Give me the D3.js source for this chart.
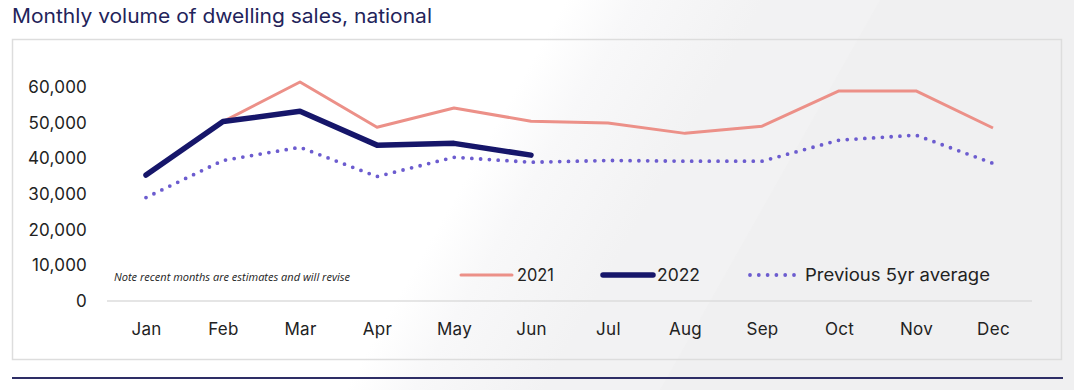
<!DOCTYPE html>
<html>
<head>
<meta charset="utf-8">
<script src="https://cdn.jsdelivr.net/npm/d3@7"></script>
<style>
  html, body { margin: 0; padding: 0; background: #fff; }
  svg { display: block; }
  text { font-family: Inter, "Noto Sans", sans-serif; }
</style>
</head>
<body>
<div id="chart"></div>
<script>
// chart data
const months = ["Jan", "Feb", "Mar", "Apr", "May", "Jun", "Jul", "Aug", "Sep", "Oct", "Nov", "Dec"];
const sales2021 = [35300, 50300, 61400, 48700, 54100, 50400, 49900, 47000, 49000, 58900, 58900, 48500];
const sales2022 = [35300, 50300, 53200, 43700, 44200, 40900];
const avg5yr = [29000, 39400, 43100, 34900, 40300, 38900, 39400, 39200, 39200, 45100, 46500, 38600];
const yTicks = [0, 10000, 20000, 30000, 40000, 50000, 60000];

const width = 1074, height = 390;

const svg = d3.select("#chart").append("svg")
    .attr("width", width)
    .attr("height", height);

// soft diagonal background, white on the left going to light grey on the right
const defs = svg.append("defs");
const grad = defs.append("linearGradient")
    .attr("id", "bgGrad")
    .attr("gradientUnits", "userSpaceOnUse")
    .attr("x1", 470).attr("y1", 170)
    .attr("x2", 620).attr("y2", 255);
grad.append("stop").attr("offset", "0%").attr("stop-color", "#ffffff");
grad.append("stop").attr("offset", "35%").attr("stop-color", "#f8f8f9");
grad.append("stop").attr("offset", "100%").attr("stop-color", "#f2f2f3");

svg.append("rect").attr("width", width).attr("height", height).attr("fill", "url(#bgGrad)");
svg.append("path")
    .attr("d", "M880,0 L1074,0 L1074,390 L660,390 Z")
    .attr("fill", "#ededee")
    .attr("opacity", 0.35);

// title
svg.append("text")
    .attr("x", 12)
    .attr("y", 23)
    .attr("fill", "#23235a")
    .attr("textLength", 420)
    .attr("lengthAdjust", "spacingAndGlyphs")
    .style("font-size", "19.5px")
    .text("Monthly volume of dwelling sales, national");

// card border
svg.append("rect")
    .attr("x", 12.5).attr("y", 39.5)
    .attr("width", 1049).attr("height", 320)
    .attr("fill", "none")
    .attr("stroke", "#dddddd")
    .attr("stroke-width", 1.5);

// bottom rule
svg.append("line")
    .attr("x1", 12).attr("x2", 1063)
    .attr("y1", 378).attr("y2", 378)
    .attr("stroke", "#2e2e66")
    .attr("stroke-width", 2);

const x = d3.scalePoint().domain(months).range([146, 993]);
const y = d3.scaleLinear().domain([0, 60000]).range([301, 87]);

// y axis labels
const yAxis = svg.append("g")
    .attr("transform", "translate(87,0)")
    .call(d3.axisLeft(y).tickValues(yTicks).tickSize(0).tickPadding(0)
        .tickFormat(d3.format(",")));
yAxis.select(".domain").remove();
yAxis.selectAll("text")
    .attr("fill", "#222")
    .style("font-size", "17px")
    .style("letter-spacing", "0.2px")
    .style("font-family", "Inter, 'Noto Sans', sans-serif");

// x axis labels
const xAxis = svg.append("g")
    .attr("transform", "translate(0,323)")
    .call(d3.axisBottom(x).tickSize(0).tickPadding(0));
xAxis.select(".domain").remove();
xAxis.selectAll("text")
    .attr("fill", "#222")
    .style("font-size", "17px")
    .style("letter-spacing", "0.3px")
    .style("font-family", "Inter, 'Noto Sans', sans-serif");

// zero baseline
svg.append("line")
    .attr("x1", 107).attr("x2", 1032)
    .attr("y1", y(0)).attr("y2", y(0))
    .attr("stroke", "#dcdcdc")
    .attr("stroke-width", 1.5);

const line = d3.line()
    .x((d, i) => x(months[i]))
    .y(d => y(d));

// previous 5yr average (dotted)
svg.append("path")
    .datum(avg5yr)
    .attr("d", line)
    .attr("fill", "none")
    .attr("stroke", "#6c5ccf")
    .attr("stroke-width", 3.8)
    .attr("stroke-linecap", "round")
    .attr("stroke-dasharray", "0,8.8");

// 2021
svg.append("path")
    .datum(sales2021)
    .attr("d", line)
    .attr("fill", "none")
    .attr("stroke", "#ec9088")
    .attr("stroke-width", 3)
    .attr("stroke-linejoin", "round");

// 2022
svg.append("path")
    .datum(sales2022)
    .attr("d", line)
    .attr("fill", "none")
    .attr("stroke", "#16166a")
    .attr("stroke-width", 5.5)
    .attr("stroke-linecap", "round")
    .attr("stroke-linejoin", "round");

// note
svg.append("text")
    .attr("x", 114)
    .attr("y", 281)
    .attr("fill", "#222")
    .attr("textLength", 236)
    .attr("lengthAdjust", "spacingAndGlyphs")
    .style("font-size", "10.5px")
    .style("font-style", "italic")
    .style("font-family", "'Open Sans', sans-serif")
    .text("Note recent months are estimates and will revise");

// legend
const legendItems = [
    { label: "2021", x1: 461, x2: 512, tx: 517, len: 37, color: "#ec9088", w: 3, dash: null },
    { label: "2022", x1: 603, x2: 653, tx: 657, len: 43, color: "#16166a", w: 5.5, dash: null },
    { label: "Previous 5yr average", x1: 750, x2: 797, tx: 805, len: 185, color: "#6c5ccf", w: 3.8, dash: "0,8.8" }
];
const legend = svg.append("g");
legendItems.forEach(item => {
    legend.append("line")
        .attr("x1", item.x1).attr("x2", item.x2)
        .attr("y1", 275).attr("y2", 275)
        .attr("stroke", item.color)
        .attr("stroke-width", item.w)
        .attr("stroke-linecap", "round")
        .attr("stroke-dasharray", item.dash);
    legend.append("text")
        .attr("x", item.tx)
        .attr("y", 281)
        .attr("fill", "#222")
        .attr("textLength", item.len)
        .attr("lengthAdjust", "spacingAndGlyphs")
        .style("font-size", "17px")
        .text(item.label);
});
</script>
</body>
</html>
